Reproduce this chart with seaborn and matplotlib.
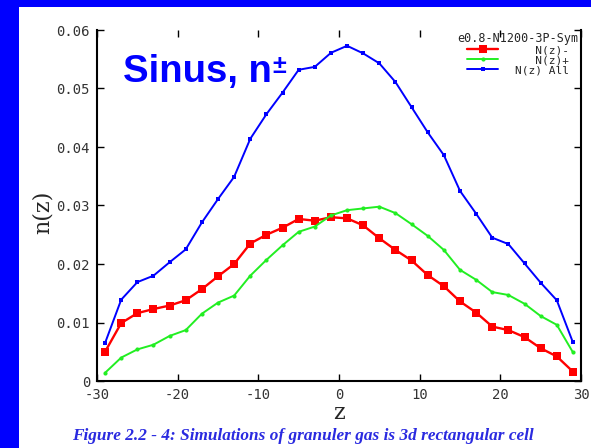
import numpy as np
import pandas as pd
import matplotlib.pyplot as plt
import matplotlib.patches as mpatches
import seaborn as sns

# 数据：z 位置与三条曲线
z = [-29, -27, -25, -23, -21, -19, -17, -15, -13, -11, -9, -7, -5, -3, -1,
     1, 3, 5, 7, 9, 11, 13, 15, 17, 19, 21, 23, 25, 27, 29]
n_minus = [0.0050, 0.0099, 0.0116, 0.0123, 0.0129, 0.0138, 0.0157, 0.0179, 0.0200, 0.0235,
           0.0250, 0.0262, 0.0277, 0.0274, 0.0280, 0.0278, 0.0266, 0.0244, 0.0224, 0.0206,
           0.0181, 0.0162, 0.0136, 0.0117, 0.0093, 0.0087, 0.0075, 0.0056, 0.0042, 0.0016]
n_plus = [0.0014, 0.0040, 0.0054, 0.0062, 0.0077, 0.0087, 0.0115, 0.0134, 0.0146, 0.0180,
          0.0207, 0.0232, 0.0255, 0.0264, 0.0283, 0.0292, 0.0295, 0.0298, 0.0287, 0.0268,
          0.0248, 0.0224, 0.0190, 0.0173, 0.0152, 0.0147, 0.0132, 0.0111, 0.0096, 0.0049]
n_all = [0.0065, 0.0139, 0.0169, 0.0180, 0.0203, 0.0225, 0.0271, 0.0311, 0.0349, 0.0414,
         0.0456, 0.0493, 0.0532, 0.0537, 0.0561, 0.0573, 0.0560, 0.0543, 0.0511, 0.0468,
         0.0425, 0.0386, 0.0325, 0.0286, 0.0245, 0.0234, 0.0201, 0.0168, 0.0138, 0.0066]

x_ticks = [-30, -20, -10, 0, 10, 20, 30]
y_ticks = [0, 0.01, 0.02, 0.03, 0.04, 0.05, 0.06]
y_ticklabels = ['0', '0.01', '0.02', '0.03', '0.04', '0.05', '0.06']
legend_title = 'e0.8-N1200-3P-Sym'
legend_labels = ['   N(z)-', '   N(z)+', 'N(z) All']

sns.set_style('ticks')
plt.rcParams['font.family'] = ['DejaVu Sans']

fig = plt.figure(figsize=(5.91, 4.48), dpi=100)
fig.patch.set_facecolor('#0000ff')
# 白色内框
fig.patches.append(mpatches.Rectangle((19 / 591, 0), 1, (448 - 7.5) / 448,
                                      transform=fig.transFigure, facecolor='white',
                                      edgecolor='none', zorder=-10))

ax = fig.add_axes([97 / 591, 67 / 448, 484 / 591, 351 / 448])
ax.set_zorder(1)
ax.set_facecolor('white')

sns.lineplot(x=z, y=n_minus, ax=ax, color='#ff0000', lw=1.7, marker='s', markersize=6,
             markeredgewidth=0, label=legend_labels[0])
sns.lineplot(x=z, y=n_plus, ax=ax, color='#22ee22', lw=1.4, marker='o', markersize=3,
             markeredgewidth=0, label=legend_labels[1])
sns.lineplot(x=z, y=n_all, ax=ax, color='#0000ff', lw=1.4, marker='s', markersize=3.5,
             markeredgewidth=0, label=legend_labels[2])

ax.set_xlim(-30, 30)
ax.set_ylim(0, 0.06)
ax.set_xticks(x_ticks)
ax.set_xticklabels([str(t) for t in x_ticks])
ax.set_yticks(y_ticks)
ax.set_yticklabels(y_ticklabels)

for sp in ['left', 'right', 'bottom']:
    ax.spines[sp].set_visible(True)
    ax.spines[sp].set_color('black')
    ax.spines[sp].set_linewidth(1.5)
ax.spines['top'].set_visible(False)
ax.tick_params(direction='in', length=5, width=1, top=True, right=True,
               labelsize=10, pad=5, colors='black', labelcolor='#333333')
for lab in ax.get_xticklabels() + ax.get_yticklabels():
    lab.set_family('DejaVu Sans Mono')

ax.set_xlabel('z', family='DejaVu Serif', fontsize=16)
ax.xaxis.set_label_coords(0.5, -0.06)
ax.set_ylabel('n(z)', family='DejaVu Serif', fontsize=16)
ax.yaxis.set_label_coords(-0.09, 0.48)

leg = ax.legend(title=legend_title, loc='upper right', bbox_to_anchor=(1.0, 1.0),
                frameon=False, borderaxespad=0, borderpad=0.2,
                prop={'family': 'DejaVu Sans Mono', 'size': 8},
                title_fontproperties={'family': 'DejaVu Sans Mono', 'size': 8.5},
                handlelength=2.8, handletextpad=1.5, labelspacing=0.0)

# 标题
ax.text(0.0537, 0.852, 'Sinus, n', transform=ax.transAxes, color='#0000ff',
        fontsize=27.5, fontweight='bold', family='Liberation Sans', va='baseline', ha='left')
ax.text(0.362, 0.8775, '\u00b1', transform=ax.transAxes, color='#0000ff',
        fontsize=18, fontweight='bold', family='Liberation Sans', va='baseline', ha='left')

# 图注
fig.text(303 / 591, 0.027, 'Figure 2.2 - 4: Simulations of granuler gas is 3d rectangular cell',
         ha='center', va='center', color='#2a2ae0', fontsize=12.4, fontweight='bold',
         style='italic', family='Liberation Serif')

plt.savefig('out.png', dpi=100, facecolor=fig.get_facecolor())
